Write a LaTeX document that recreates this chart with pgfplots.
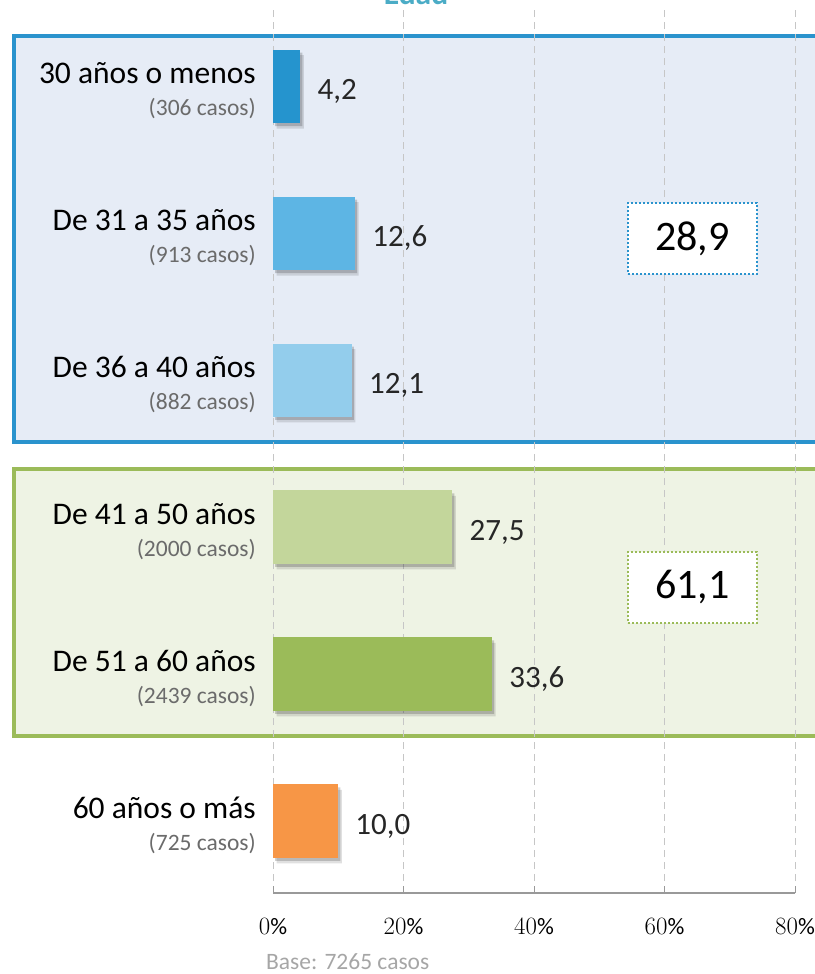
\documentclass[border=0pt]{standalone}
\usepackage{pgfplots}
\pgfplotsset{compat=1.18}
\usepackage{fontspec}
\setmainfont{Carlito}
\definecolor{bluebox}{HTML}{2A93CD}
\definecolor{bluefill}{HTML}{E6ECF6}
\definecolor{greenbox}{HTML}{9BBB59}
\definecolor{greenfill}{HTML}{EEF3E4}
\definecolor{cA}{HTML}{2594CE}
\definecolor{cB}{HTML}{5DB5E4}
\definecolor{cC}{HTML}{93CDEC}
\definecolor{cD}{HTML}{C3D69B}
\definecolor{cE}{HTML}{9BBB59}
\definecolor{cF}{HTML}{F79646}
\definecolor{subgray}{HTML}{6B6B6B}
\definecolor{basegray}{HTML}{A6A6A6}
\definecolor{titleteal}{HTML}{4BACC6}
\newcommand{\sub}[1]{{\fontsize{23.5}{26}\selectfont\color{subgray}#1}}
\pgfplotstableread{
x y
4.2 5
12.6 4
12.1 3
27.5 2
33.6 1
10.0 0
}\bardata
\begin{document}
\begin{tikzpicture}
\useasboundingbox (0pt,0pt) rectangle (814pt,-974pt);
% title (cut off at top)
\node[anchor=base, text=titleteal, font=\fontsize{31.5}{36}\selectfont\bfseries, inner sep=0pt] at (416pt,-5pt) {Edad};
% group boxes
\draw[line width=4pt, draw=bluebox, fill=bluefill] (14pt,-36pt) rectangle (840pt,-442pt);
\draw[line width=4pt, draw=greenbox, fill=greenfill] (14pt,-469pt) rectangle (840pt,-736pt);
\begin{axis}[
  at={(273pt,-893pt)}, anchor=south west,
  scale only axis, width=522pt, height=883pt,
  xbar, bar width=0.5, bar shift=0pt,
  xmin=0, xmax=80, ymin=-0.49, ymax=5.52,
  axis x line*=bottom, axis y line*=left,
  y axis line style={draw=none},
  x axis line style={draw=gray!80, line width=1.2pt},
  xtick={0,20,40,60,80},
  xticklabel={\pgfmathprintnumber{\tick}\%},
  xtick style={draw=gray!80, line width=1pt},
  major tick length=7pt,
  tick align=inside,
  xmajorgrids,
  major x grid style={gray!45, line width=0.9pt, dash pattern=on 7pt off 5pt},
  xticklabel style={font=\fontsize{23.5}{28}\selectfont, yshift=-22pt},
  ytick={0,1,2,3,4,5},
  major y tick style={draw=none},
  yticklabels={
    {60 años o más\\\sub{(725 casos)}},
    {De 51 a 60 años\\\sub{(2439 casos)}},
    {De 41 a 50 años\\\sub{(2000 casos)}},
    {De 36 a 40 años\\\sub{(882 casos)}},
    {De 31 a 35 años\\\sub{(913 casos)}},
    {30 años o menos\\\sub{(306 casos)}}},
  yticklabel style={align=right, anchor=east, inner sep=0pt, xshift=-17pt, yshift=-4pt,
    font=\fontsize{31.5}{32}\selectfont},
  clip=false,
]
% soft shadows
\addplot[forget plot, fill=black, draw=none, opacity=0.12, transform canvas={xshift=3.5pt,yshift=-5.5pt}] table[x=x,y=y] {\bardata};
\addplot[forget plot, fill=black, draw=none, opacity=0.18, transform canvas={xshift=2pt,yshift=-3pt}] table[x=x,y=y] {\bardata};
% bars
\pgfplotsset{every axis plot/.append style={
  point meta=x,
  nodes near coords={\pgfmathprintnumber[fixed,fixed zerofill,precision=1,use comma,assume math mode=true]{\pgfplotspointmeta}},
  every node near coord/.append style={anchor=west, inner sep=0pt, xshift=17pt, yshift=-5pt,
    font=\fontsize{31}{36}\selectfont, text=black!85}}}
\addplot[fill=cA, draw=none] coordinates {(4.2,5)};
\addplot[fill=cB, draw=none] coordinates {(12.6,4)};
\addplot[fill=cC, draw=none] coordinates {(12.1,3)};
\addplot[fill=cD, draw=none] coordinates {(27.5,2)};
\addplot[fill=cE, draw=none] coordinates {(33.6,1)};
\addplot[fill=cF, draw=none] coordinates {(10.0,0)};
\end{axis}
% summary boxes
\node[draw=bluebox, line width=2pt, dotted, fill=white, minimum width=129pt, minimum height=71pt, inner sep=0pt, font=\fontsize{42}{48}\selectfont] at (692.5pt,-238.5pt) {28,9};
\node[draw=greenbox, line width=2pt, dotted, fill=white, minimum width=129pt, minimum height=71pt, inner sep=0pt, font=\fontsize{42}{48}\selectfont] at (692.5pt,-587pt) {61,1};
% base note
\node[anchor=west, inner sep=0pt, text=basegray, font=\fontsize{23.5}{28}\selectfont] at (266pt,-962pt) {Base: 7265 casos};
\end{tikzpicture}
\end{document}
